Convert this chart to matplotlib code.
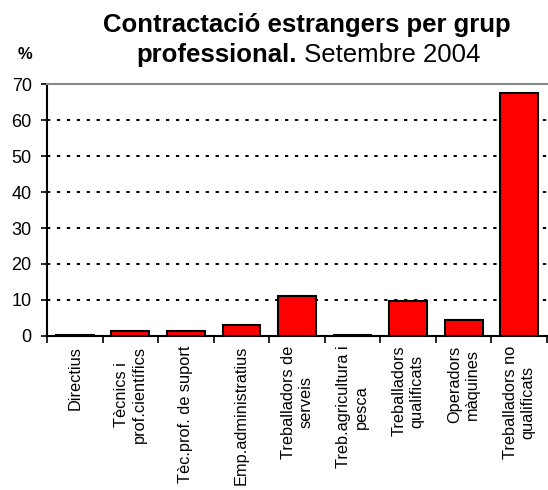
import matplotlib
matplotlib.use("Agg")
import matplotlib.pyplot as plt
import numpy as np

plt.rcParams['font.family'] = ['Liberation Sans', 'DejaVu Sans']

categories = ["Directius", "Tècnics i\nprof.científics", "Tèc.prof. de suport",
              "Emp.administratius", "Treballadors de\nserveis", "Treb.agricultura i\npesca",
              "Treballadors\nqualificats", "Operadors\nmàquines", "Treballadors no\nqualificats"]
values = [0.2, 1.5, 1.3, 3.0, 11.1, 0.4, 9.7, 4.5, 67.6]
yticks = [0, 10, 20, 30, 40, 50, 60, 70]

fig = plt.figure(figsize=(5.48, 4.9), dpi=100)
ax = fig.add_axes([47/548, 1-336/490, 500/548, 252/490])

x = np.arange(len(categories))
ax.bar(x, values, width=0.68, color="#FF0000", edgecolor="black", linewidth=1.5, zorder=3)

ax.set_xlim(-0.5, len(categories) - 0.5)
ax.set_ylim(0, 70)
ax.set_yticks(yticks)
ax.tick_params(axis='y', labelsize=13, direction='out', length=4, width=1.2, pad=7)

# ticks between categories, labels at the centres
ax.set_xticks(np.arange(len(categories) + 1) - 0.5)
ax.set_xticklabels([])
ax.set_xticks(x, minor=True)
ax.set_xticklabels(categories, minor=True, rotation=90, fontsize=11.8,
                   ha='center', va='top', multialignment='center')
ax.tick_params(axis='x', which='major', direction='out', length=5, width=1.2)
ax.tick_params(axis='x', which='minor', length=0, pad=7)

ax.grid(axis='y', color='black', linestyle=(0, (1.7, 3.4)), linewidth=1.4, zorder=1)

for s in ['left', 'bottom']:
    ax.spines[s].set_linewidth(1.5)
ax.spines['top'].set_color('#888888')
ax.spines['top'].set_linewidth(1.5)
ax.spines['right'].set_visible(False)

fig.text(307/548, 1-32/490, "Contractació estrangers per grup", fontsize=18.5,
         fontweight='bold', ha='center', va='baseline')
fig.text(297/548, 1-62/490, "professional.", fontsize=18.5,
         fontweight='bold', ha='right', va='baseline')
fig.text(297/548, 1-62/490, " Setembre 2004", fontsize=18.5,
         ha='left', va='baseline')
fig.text(25/548, 1-59/490, "%", fontsize=12, fontweight='bold', ha='center', va='baseline')

fig.savefig("out.png", dpi=100)
